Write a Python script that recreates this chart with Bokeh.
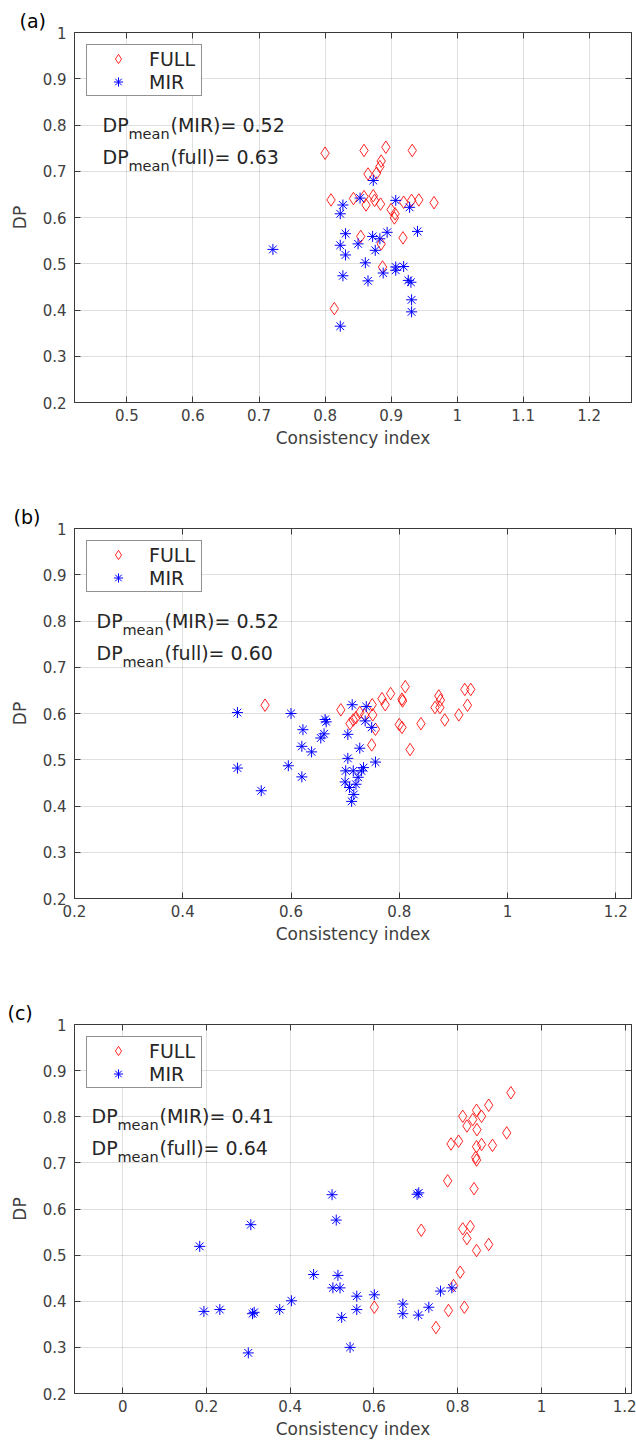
from bokeh.plotting import figure
from bokeh.layouts import column
from bokeh.models import Range1d, LinearAxis, FixedTicker, Legend, LegendItem, Label, CustomJSTickFormatter
from bokeh.embed import file_html
from bokeh.resources import INLINE

# ---------------- data ----------------
# panel (a)
a_full_x = [0.800, 0.859, 0.892, 0.932, 0.885, 0.883, 0.878, 0.865, 0.809, 0.843, 0.859, 0.862, 0.873, 0.875,
            0.884, 0.900, 0.906, 0.905, 0.919, 0.931, 0.942, 0.965, 0.854, 0.885, 0.918, 0.887, 0.814]
a_full_y = [0.739, 0.745, 0.752, 0.745, 0.722, 0.710, 0.696, 0.694, 0.638, 0.641, 0.645, 0.627, 0.647, 0.637,
            0.629, 0.617, 0.608, 0.599, 0.633, 0.637, 0.638, 0.632, 0.559, 0.543, 0.556, 0.493, 0.403]
a_mir_x = [0.721, 0.873, 0.853, 0.907, 0.928, 0.827, 0.823, 0.831, 0.823, 0.850, 0.831, 0.872, 0.883, 0.894,
           0.876, 0.940, 0.861, 0.827, 0.865, 0.888, 0.907, 0.919, 0.907, 0.926, 0.930, 0.931, 0.931, 0.823]
a_mir_y = [0.531, 0.680, 0.642, 0.637, 0.622, 0.627, 0.608, 0.565, 0.540, 0.543, 0.519, 0.559, 0.554, 0.568,
           0.529, 0.570, 0.502, 0.474, 0.463, 0.480, 0.493, 0.494, 0.486, 0.464, 0.460, 0.422, 0.396, 0.365]
a_x_ticks = [0.5, 0.6, 0.7, 0.8, 0.9, 1.0, 1.1, 1.2]
a_x_labels = ["0.5", "0.6", "0.7", "0.8", "0.9", "1", "1.1", "1.2"]
a_x_range = (0.4206, 1.264)
a_mean_mir = "0.52"
a_mean_full = "0.63"

# panel (b)
b_full_x = [0.552, 0.692, 0.709, 0.715, 0.720, 0.727, 0.736, 0.750, 0.751, 0.756, 0.749, 0.768, 0.774, 0.784,
            0.805, 0.806, 0.811, 0.800, 0.805, 0.820, 0.840, 0.866, 0.873, 0.876, 0.875, 0.884, 0.910, 0.921,
            0.932, 0.926]
b_full_y = [0.618, 0.608, 0.578, 0.586, 0.591, 0.602, 0.597, 0.619, 0.597, 0.566, 0.532, 0.632, 0.619, 0.643,
            0.631, 0.627, 0.658, 0.576, 0.570, 0.522, 0.578, 0.613, 0.638, 0.629, 0.613, 0.586, 0.597, 0.652,
            0.652, 0.618]
b_mir_x = [0.501, 0.600, 0.622, 0.620, 0.638, 0.663, 0.665, 0.661, 0.655, 0.501, 0.595, 0.620, 0.545,
           0.713, 0.739, 0.737, 0.749, 0.705, 0.727, 0.705, 0.756, 0.701, 0.715, 0.730, 0.734,
           0.712, 0.716, 0.708, 0.720, 0.700, 0.724]
b_mir_y = [0.602, 0.600, 0.565, 0.529, 0.517, 0.587, 0.582, 0.556, 0.547, 0.482, 0.487, 0.463, 0.433,
           0.619, 0.615, 0.584, 0.570, 0.555, 0.525, 0.503, 0.495, 0.476, 0.476, 0.476, 0.483,
           0.410, 0.425, 0.440, 0.447, 0.452, 0.462]
b_x_ticks = [0.2, 0.4, 0.6, 0.8, 1.0, 1.2]
b_x_labels = ["0.2", "0.4", "0.6", "0.8", "1", "1.2"]
b_x_range = (0.2, 1.229)
b_mean_mir = "0.52"
b_mean_full = "0.60"

# panel (c)
c_full_x = [0.927, 0.874, 0.845, 0.812, 0.836, 0.857, 0.822, 0.846, 0.917, 0.784, 0.802, 0.845, 0.857, 0.883,
            0.843, 0.845, 0.776, 0.839, 0.713, 0.812, 0.830, 0.822, 0.845, 0.874, 0.806, 0.790, 0.601, 0.778,
            0.816, 0.748]
c_full_y = [0.852, 0.825, 0.814, 0.801, 0.794, 0.801, 0.780, 0.772, 0.765, 0.741, 0.747, 0.735, 0.740, 0.738,
            0.712, 0.706, 0.661, 0.644, 0.554, 0.557, 0.562, 0.536, 0.510, 0.523, 0.463, 0.434, 0.387, 0.380,
            0.387, 0.343]
c_mir_x = [0.184, 0.306, 0.500, 0.510, 0.703, 0.707, 0.456, 0.514, 0.502, 0.519, 0.559, 0.601, 0.559, 0.523,
           0.403, 0.375, 0.314, 0.310, 0.232, 0.194, 0.669, 0.669, 0.706, 0.731, 0.759, 0.786, 0.300, 0.543]
c_mir_y = [0.519, 0.566, 0.631, 0.576, 0.632, 0.635, 0.458, 0.456, 0.429, 0.429, 0.411, 0.414, 0.382, 0.365,
           0.401, 0.382, 0.376, 0.373, 0.382, 0.378, 0.394, 0.373, 0.370, 0.387, 0.422, 0.429, 0.288, 0.300]
c_x_ticks = [0.0, 0.2, 0.4, 0.6, 0.8, 1.0, 1.2]
c_x_labels = ["0", "0.2", "0.4", "0.6", "0.8", "1", "1.2"]
c_x_range = (-0.115, 1.215)
c_mean_mir = "0.41"
c_mean_full = "0.64"

y_ticks = [0.2, 0.3, 0.4, 0.5, 0.6, 0.7, 0.8, 0.9, 1.0]
y_labels = ["0.2", "0.3", "0.4", "0.5", "0.6", "0.7", "0.8", "0.9", "1"]

FONT = "DejaVu Sans"
AX = "#3a3a3a"
TXT = "#404040"


def style_axis(ax, ticks, labels=None):
    ax.ticker = FixedTicker(ticks=ticks)
    if labels is not None:
        ax.major_label_overrides = dict(zip(ticks, labels))
    ax.axis_line_color = AX
    ax.major_tick_line_color = AX
    ax.major_tick_in = 6
    ax.major_tick_out = 0
    ax.minor_tick_in = 0
    ax.minor_tick_out = 0
    ax.minor_tick_line_color = None
    ax.major_label_text_font = FONT
    ax.major_label_text_font_size = "15px"
    ax.major_label_text_color = TXT
    ax.axis_label_text_font = FONT
    ax.axis_label_text_font_size = "17px"
    ax.axis_label_text_font_style = "normal"
    ax.axis_label_text_color = TXT


def panel(tag, tag_dx, full_x, full_y, mir_x, mir_y, xr, x_ticks, x_labels, m_mir, m_full,
          height, left, right, bottom, text_dx):
    p = figure(width=636, height=height, x_range=Range1d(*xr), y_range=Range1d(0.2, 1.0),
               output_backend="svg", toolbar_location=None,
               min_border_left=left, min_border_right=right, min_border_top=32, min_border_bottom=bottom,
               x_axis_label="Consistency index", y_axis_label="DP")
    p.title.text = tag
    p.title.text_font = FONT
    p.title.text_font_size = "19px"
    p.title.text_font_style = "normal"
    p.title.text_color = "#000000"
    p.title.align = "left"
    p.title.offset = tag_dx - left
    try:
        p.title.standoff = 2
    except Exception:
        pass
    p.outline_line_color = AX

    style_axis(p.xaxis[0], x_ticks, x_labels)
    style_axis(p.yaxis[0], y_ticks, y_labels)
    p.xaxis[0].major_label_standoff = 6
    p.xaxis[0].axis_label_standoff = 4
    p.yaxis[0].major_label_standoff = 8
    p.yaxis[0].axis_label_standoff = 10

    top = LinearAxis(formatter=CustomJSTickFormatter(code="return ''"))
    style_axis(top, x_ticks)
    top.major_label_text_font_size = "0px"
    top.major_label_standoff = 0
    p.add_layout(top, "above")
    rgt = LinearAxis(formatter=CustomJSTickFormatter(code="return ''"))
    style_axis(rgt, y_ticks)
    rgt.major_label_text_font_size = "0px"
    rgt.major_label_standoff = 0
    p.add_layout(rgt, "right")

    p.xgrid.ticker = FixedTicker(ticks=x_ticks)
    p.ygrid.ticker = FixedTicker(ticks=y_ticks)
    for g in (p.xgrid, p.ygrid):
        g.grid_line_color = "#262626"
        g.grid_line_alpha = 0.15
        g.grid_line_width = 1

    r_full = p.scatter(full_x, full_y, marker="diamond", size=12.5, fill_color=None,
                       line_color="#ff0000", line_width=1, line_alpha=0.85)
    r_mir = p.scatter(mir_x, mir_y, marker="asterisk", size=11,
                      line_color="#0000ff", line_width=1)

    leg = Legend(items=[LegendItem(label="FULL", renderers=[r_full]),
                        LegendItem(label="MIR", renderers=[r_mir])],
                 location="top_left")
    leg.margin = 12
    leg.padding = 2
    leg.spacing = 0
    leg.glyph_width = 58
    leg.glyph_height = 23
    leg.label_height = 23
    leg.label_width = 50
    leg.label_standoff = 2
    leg.label_text_font = FONT
    leg.label_text_font_size = "19px"
    leg.label_text_color = "#262626"
    leg.border_line_color = "#262626"
    leg.border_line_width = 1
    leg.background_fill_color = "white"
    leg.background_fill_alpha = 1
    p.add_layout(leg)

    fh = 370
    lines = [("(MIR)= " + m_mir, 92), ("(full)= " + m_full, 124.5)]
    for rest, below in lines:
        base = fh - below
        p.add_layout(Label(x=text_dx, y=base, x_units="screen", y_units="screen", text="DP",
                           text_font=FONT, text_font_size="19px", text_color="#262626",
                           text_baseline="alphabetic"))
        p.add_layout(Label(x=text_dx + 26, y=base - 9, x_units="screen", y_units="screen", text="mean",
                           text_font=FONT, text_font_size="14.5px", text_color="#262626",
                           text_baseline="alphabetic"))
        p.add_layout(Label(x=text_dx + 68, y=base, x_units="screen", y_units="screen", text=rest,
                           text_font=FONT, text_font_size="19px", text_color="#262626",
                           text_baseline="alphabetic"))
    return p


pa = panel("(a)", 18, a_full_x, a_full_y, a_mir_x, a_mir_y, a_x_range, a_x_ticks, a_x_labels,
           a_mean_mir, a_mean_full, 496, 73, 0, 94, 28)
pb = panel("(b)", 13, b_full_x, b_full_y, b_mir_x, b_mir_y, b_x_range, b_x_ticks, b_x_labels,
           b_mean_mir, b_mean_full, 496, 74, 0, 94, 22)
pc = panel("(c)", 7, c_full_x, c_full_y, c_mir_x, c_mir_y, c_x_range, c_x_ticks, c_x_labels,
           c_mean_mir, c_mean_full, 449, 74, 5, 47, 17)

layout = column(pa, pb, pc)
open("out.html", "w").write(file_html(layout, INLINE))
